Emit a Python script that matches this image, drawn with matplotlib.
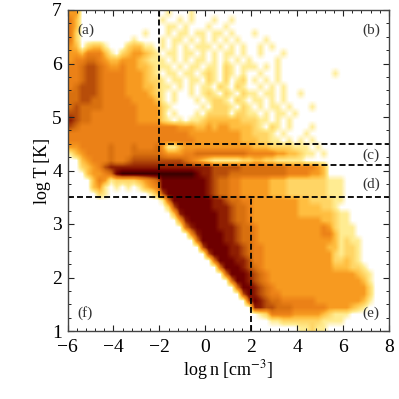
import numpy as np
import matplotlib
matplotlib.use('Agg')
import matplotlib.pyplot as plt
from matplotlib.colors import LinearSegmentedColormap
from matplotlib.ticker import MultipleLocator

plt.rcParams['font.family'] = ['Liberation Serif', 'DejaVu Serif']
plt.rcParams['mathtext.fontset'] = 'stix'

# density level: rows T = 7 -> 1, columns n = -6 -> 8
rows = [
"44...... ........ .1...1.. ........ ........ ........ ........",
"53...... ........ 1..1.1.. .1..1... ........ ........ ........",
"53...... ........ .11.1... 1..1.... ........ ........ ........",
"52...... .....1.. .1.11.11 .11.1... 1....... ........ ........",
"52...... ...1.... 1.11.1.1 .1.1.1.. ..1..... ........ ........",
"43.2331. ..23311. 1.1.1.11 1.1.1.1. .1.1.... ........ ........",
"44355531 .2344321 .11.11.1 .1.11.1. .1...1.. ........ ........",
"45566543 34443211 1.1.1.11 .1.1.1.1 ....1... ........ ........",
"55677654 45443321 11.1.11. 11.21.11 1.1.1... ........ ........",
"55677655 55444321 .11.11.1 21.21.1. .1..1... ......1. ........",
"55677655 55444322 1.11.11. 21.2.12. 1.1.1... ........ ........",
"56777655 55444332 11.1.1.1 1.21.21. .1.1.1.. ........ ........",
"66777655 55444432 1.1..1.1 21.21.21 1.11.1.. 1....... ........",
"66776655 55544443 1.1...1. 1221.21. 11.1.1.. ........ ........",
"67666655 55554444 21.....1 .2221.21 .1.11.1. ..1..... ........",
"77665555 55554444 2.1...1. 2222.221 1.1.11.1 ........ ........",
"87665555 55554444 21.1.112 33333322 211.1.1. ........ ........",
"76555555 55555555 55544433 43443333 21.21.1. ..1..... ........",
"55555555 55555555 55555444 44444433 2221.1.. .1...... ........",
"55555555 55555555 55555544 44444433 32211.1. 1.1..... ........",
"44555556 55565556 41134444 44444444 33322221 11.1.... ........",
"13455556 55566666 54445566 66666665 55554433 211.1... ........",
"..345556 55677777 77776543 21111122 33221111 1....... ........",
"..234578 88888888 88888888 87777766 66666655 55543... ........",
"...34456 9xxxxxxx xxxxxx98 87776666 66666655 55443... ........",
"....3541 22223456 99999999 87665544 44433322 22222111 ........",
"....341. 1.1.1345 99999999 87665544 44433322 22222111 ........",
".....21. ......13 79999999 87665544 44433322 22222111 ........",
"........ ........ 16999999 98876655 44444444 33222211 ........",
"........ ........ .2799999 98887665 44444444 3333221. ........",
"........ ........ ..389999 99887665 44444444 33333321 1.......",
"........ ........ ...48999 99887665 44444444 44443321 1.......",
"........ ........ ....6899 99888766 54444444 44445421 11......",
"........ ........ .....589 99988766 54444444 44445531 11......",
"........ ........ ......69 99988766 54444444 44444431 211.....",
"........ ........ .......7 99998876 55444444 44444331 221.....",
"........ ........ ........ 79998876 55444444 44444421 221.....",
"........ ........ ........ .6999887 55444444 44444422 321.....",
"........ ........ ........ ..699987 65444444 44444433 3221....",
"........ ........ ........ ...69998 76544444 44444444 44321...",
"........ ........ ........ ....6998 76544444 44444444 44431...",
"........ ........ ........ .....699 87654444 44444444 44442...",
"........ ........ ........ ......79 87655444 44444444 44442...",
"........ ........ ........ .......7 98766555 55544444 44431...",
"........ ........ ........ ........ 88776665 55555444 4321....",
"........ ........ ........ ........ .1255554 44443211 1.......",
"........ ........ ........ ........ ...11222 22221111 ........",
"........ ........ ........ ........ ........ 11211... ........",
]
levels = np.array([[0 if c == '.' else 10 if c == 'x' else int(c)
                    for c in r.replace(' ', '')] for r in rows], float)

v_lines = [(-2, 3.5, 7), (2, 1, 3.5)]
h_lines = [(4.5, -2, 8), (4.1, -2, 8), (3.5, -6, 8)]
panel_labels = ['(a)', '(b)', '(c)', '(d)', '(e)', '(f)']
panel_x = [-5.56, 6.84, 6.84, 6.84, 6.84, -5.56]
panel_y = [6.63, 6.63, 4.29, 3.75, 1.34, 1.34]

colors = ['#ffffff', '#ffec90', '#ffd565', '#ffbe40', '#f79a20', '#ec8218',
          '#d8700f', '#b84e0a', '#8e1e02', '#700000', '#3a0000']
cmap = LinearSegmentedColormap.from_list('phase', colors)

fig = plt.figure(figsize=(3.99, 3.99), dpi=100)
ax = fig.add_axes([67.5/399, 1-331/399, 321.5/399, 321/399])
ax.imshow(levels, extent=[-6, 8, 1, 7], origin='upper', aspect='auto', cmap=cmap,
          vmin=0, vmax=10, interpolation='bilinear')
dash = (0, (3.3, 1.7))
for x, y0, y1 in v_lines:
    ax.plot([x, x], [y0, y1], color='k', lw=1.3, ls=dash)
for y, x0, x1 in h_lines:
    ax.plot([x0, x1], [y, y], color='k', lw=1.3, ls=dash)
for s, x, y in zip(panel_labels, panel_x, panel_y):
    ax.text(x, y, s, fontsize=11, color='#333333', ha='left', va='center')
ax.set_xlim(-6, 8)
ax.set_ylim(1, 7)
ax.xaxis.set_major_locator(MultipleLocator(2))
ax.xaxis.set_minor_locator(MultipleLocator(0.4))
ax.yaxis.set_major_locator(MultipleLocator(1))
ax.yaxis.set_minor_locator(MultipleLocator(0.25))
ax.tick_params(which='both', direction='in', top=True, right=True, color='#222222')
ax.tick_params(which='major', length=4.5, width=0.8, labelsize=14, pad=4)
ax.tick_params(axis='x', which='major', pad=5.5)
ax.tick_params(which='minor', length=2.5, width=0.7)
for s in ax.spines.values():
    s.set_linewidth(1.0)
    s.set_color('#444444')
ax.set_xlabel('log\u2009n\u2009[cm$^{-3}$]', fontsize=13, labelpad=2)
ax.set_ylabel('log\u2009T\u2009[K]', fontsize=13, labelpad=1)
fig.savefig('out.png', dpi=100)
